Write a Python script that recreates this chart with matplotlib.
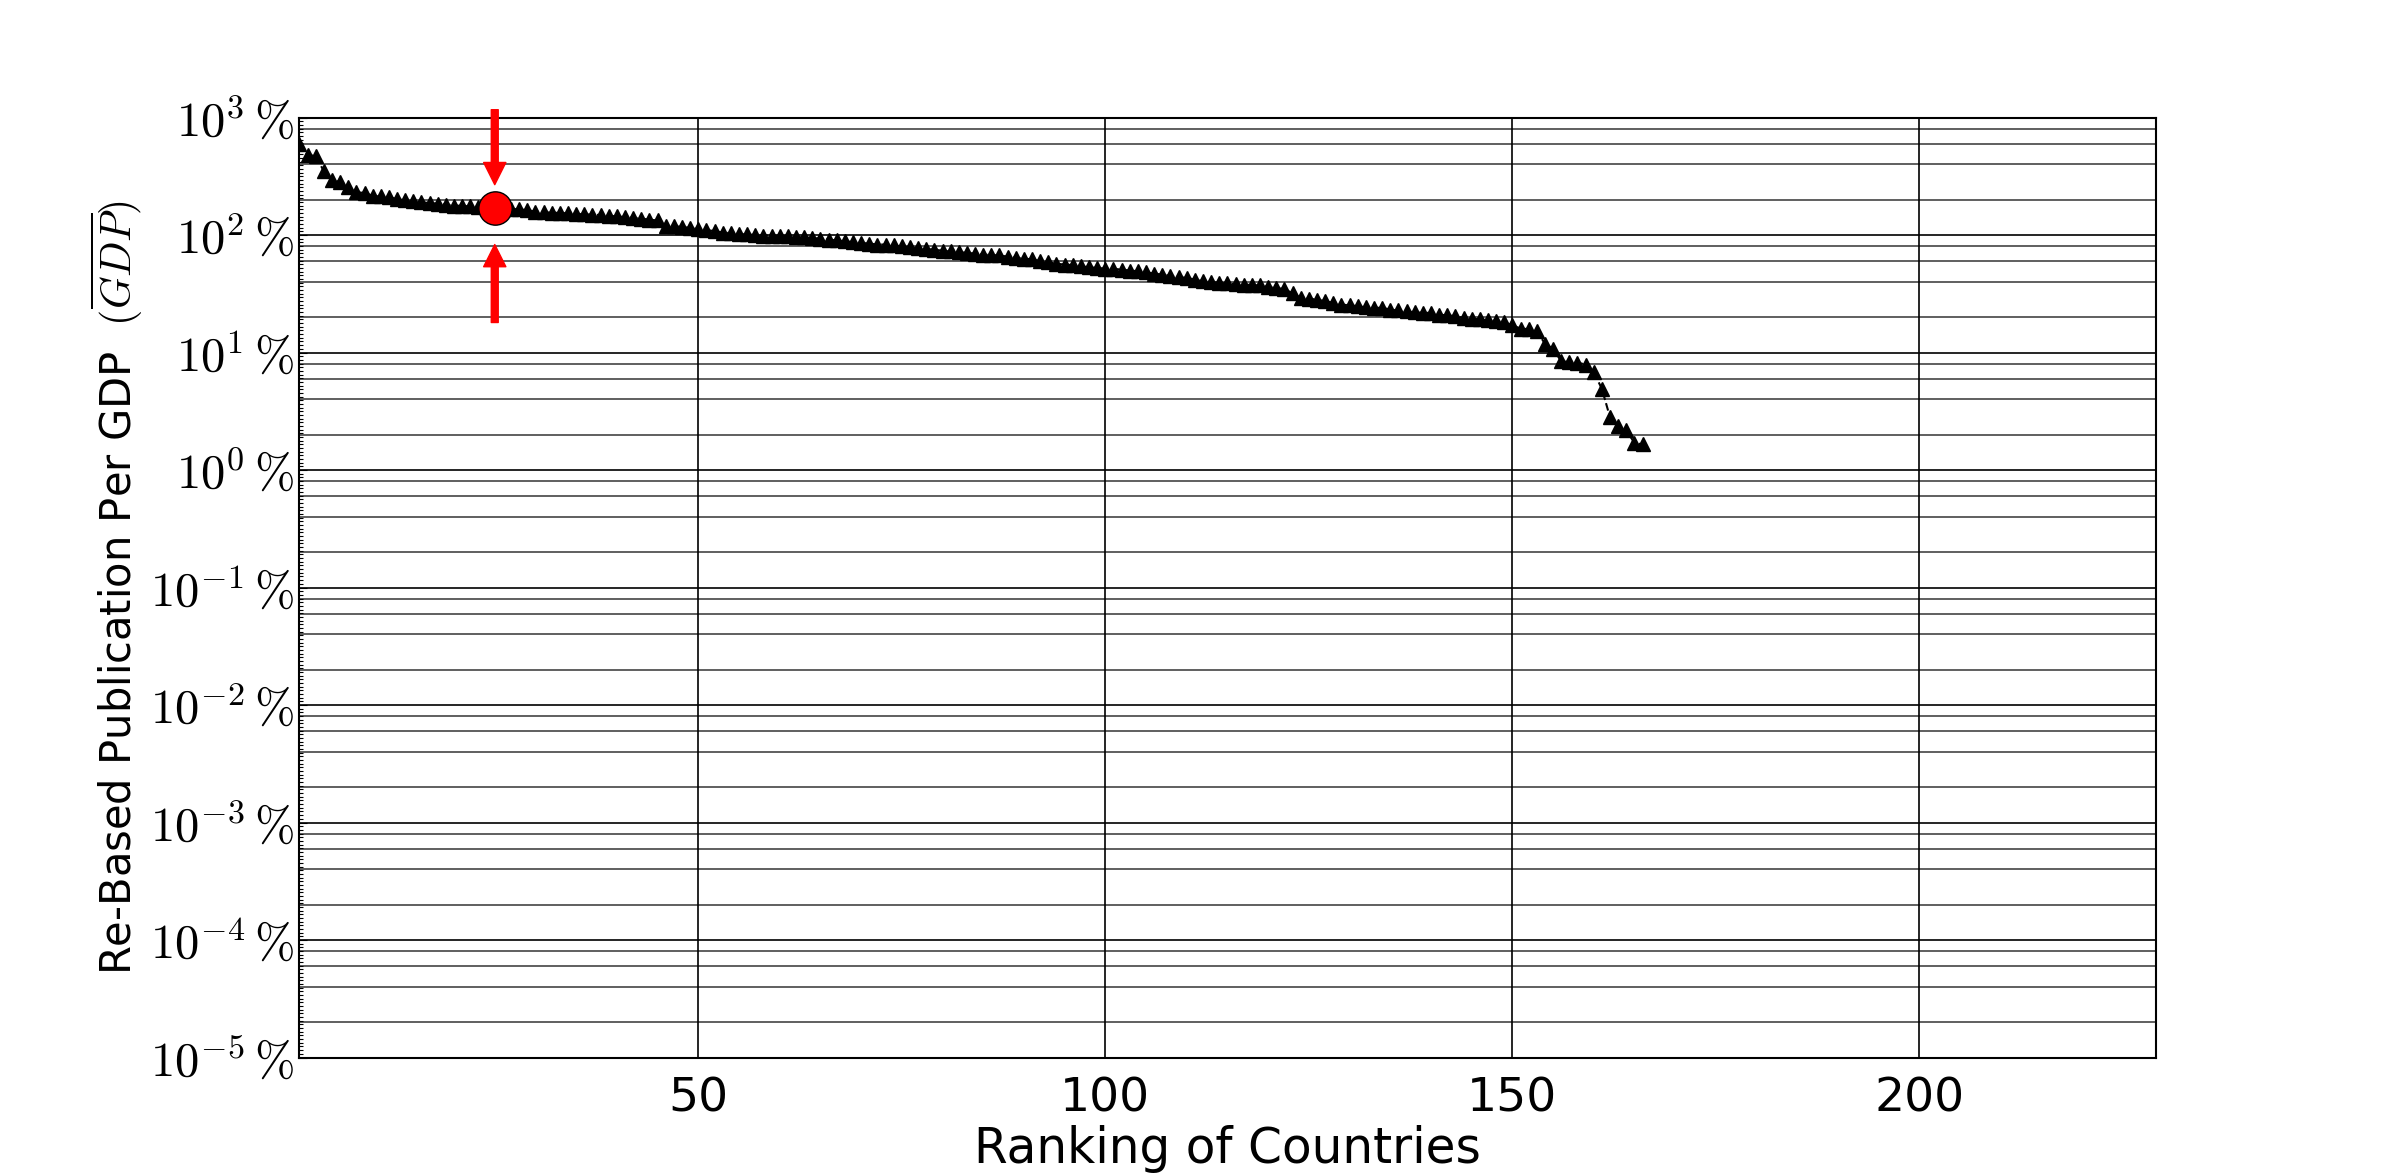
import numpy as np
import matplotlib.pyplot as plt
from matplotlib.ticker import FixedLocator, FuncFormatter, NullFormatter

plt.rcParams['mathtext.fontset'] = 'cm'

# ranking of countries and re-based publication per GDP (%)
rank = np.arange(1, 167)
rebased = [
    590, 480, 470, 350, 296, 281, 256, 231, 228, 216,
    213, 210, 202, 197, 193, 190, 187, 185, 181, 178,
    177, 175, 173, 171, 170, 168, 167, 165, 163, 158,
    156, 155, 154, 153, 151, 150, 149, 148, 146, 144,
    142, 140, 138, 135, 133, 120, 119, 117, 115, 112,
    110, 108, 105, 103.5, 102, 101, 100, 99, 98.5, 98,
    97.7, 96, 95.5, 94.5, 93, 91.5, 90, 88.5, 87, 85.7,
    84.5, 83, 83, 81.5, 80, 78.5, 77.7, 76, 75, 73.5,
    72.5, 71.5, 70.5, 69.5, 68, 67.5, 67, 65.5, 64, 63,
    62, 60, 58.5, 57, 56, 55.5, 54.3, 53, 52.5, 51.7,
    51.5, 50.8, 49.8, 49.2, 48, 47, 46, 45, 44, 43,
    41.8, 40.4, 40, 39.1, 38.7, 38.2, 37.9, 37.5, 37.2, 36.2,
    35.2, 34.8, 31.8, 29.2, 28.7, 28.2, 27.3, 26.5, 25.6, 25.2,
    24.8, 24.2, 24.0, 24.0, 23.2, 22.8, 22.5, 21.9, 21.8, 21.7,
    21.0, 20.7, 20.4, 19.7, 19.45, 19.1, 18.8, 18.5, 18.1, 17.0,
    16.0, 15.8, 15.2, 11.9, 10.8, 8.4, 8.3, 8.2, 7.9, 6.8,
    4.9, 2.8, 2.36, 2.17, 1.70, 1.65,
]

# highlighted country and the two arrows pointing at it
highlight_rank = 25
highlight_value = 170
arrows = [(268, 1165), (83, 18)]  # (tip, tail) in data units

decades = np.arange(-5, 4)

fig = plt.figure(figsize=(23.95, 11.75), dpi=100)
ax = fig.add_axes([0.125, 0.1, 0.775, 0.8])

ax.plot(rank, rebased, marker='^', ls='--', color='k', ms=10, lw=1.5, zorder=3)
ax.plot(highlight_rank, highlight_value, 'o', ms=24, mfc='red', mec='k',
        mew=1, zorder=4)
for tip, tail in arrows:
    ax.annotate('', xy=(highlight_rank, tip), xytext=(highlight_rank, tail),
                arrowprops=dict(facecolor='red', edgecolor='red', width=5,
                                headwidth=16, headlength=16, shrink=0),
                annotation_clip=False)

ax.set_yscale('log')
ax.set_ylim(10.0 ** decades[0], 10.0 ** decades[-1])
ax.set_xlim(1, 229)

ax.yaxis.set_major_locator(FixedLocator(10.0 ** decades))
ax.yaxis.set_major_formatter(
    FuncFormatter(lambda v, pos: r'$10^{%d}\,\%%$' % round(np.log10(v))))
ax.yaxis.set_minor_locator(
    FixedLocator(10.0 ** np.arange(decades[0], decades[-1], 1 / 32)))
ax.yaxis.set_minor_formatter(NullFormatter())

# grid: black at decades and x ticks, grey at 2,4,6,8
ax.grid(True, which='major', color='k', lw=1.2)
for d in decades[:-1]:
    for m in (2, 4, 6, 8):
        ax.axhline(m * 10.0 ** d, color='#444444', lw=1.2, zorder=0.5)

ax.tick_params(axis='y', which='major', direction='in', length=6,
               labelsize=35, pad=4)
ax.tick_params(axis='y', which='minor', direction='in', length=3, width=0.8)
ax.tick_params(axis='x', which='both', direction='in', length=0,
               labelsize=34, pad=14)
for s in ax.spines.values():
    s.set_linewidth(1.5)

ax.set_xlabel('Ranking of Countries', fontsize=35, labelpad=2)
ax.set_ylabel(r'Re-Based Publication Per GDP  $(\overline{GDP})$',
              fontsize=30)
ax.yaxis.set_label_coords(-0.083, 0.5)

fig.savefig('out.png', dpi=100)
